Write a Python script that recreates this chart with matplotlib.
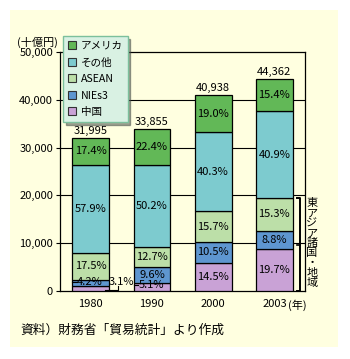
import matplotlib
matplotlib.use("Agg")
import matplotlib.pyplot as plt
from matplotlib.patches import Rectangle, Patch
import matplotlib.transforms as mtransforms
import numpy as np

plt.rcParams['font.family'] = ['Noto Sans CJK JP', 'DejaVu Sans']

# ---- data ----
years = ['1980', '1990', '2000', '2003']
totals = [31995, 33855, 40938, 44362]
series_names = ['中国', 'NIEs3', 'ASEAN', 'その他', 'アメリカ']   # bottom -> top
china_pct = [3.1, 5.1, 14.5, 19.7]
nies_pct = [4.2, 9.6, 10.5, 8.8]
asean_pct = [17.5, 12.7, 15.7, 15.3]
other_pct = [57.9, 50.2, 40.3, 40.9]
america_pct = [17.4, 22.4, 19.0, 15.4]
yticks = [0, 10000, 20000, 30000, 40000, 50000]
ytick_labels = ['0', '10,000', '20,000', '30,000', '40,000', '50,000']
unit_label = '(十億円)'
year_unit = '(年)'
bracket_label = '東アジア諸国・地域'
caption = '資料）財務省「貿易統計」より作成'

pcts = [china_pct, nies_pct, asean_pct, other_pct, america_pct]
colors = ['#c9a2d6', '#5e96d0', '#bcdfa8', '#7dcbcf', '#62b857']

W, H = 350, 359
fig = plt.figure(figsize=(W / 100, H / 100), dpi=100)
fig.patch.set_facecolor('white')
bg = '#ffffe0'
fig.patches.append(Rectangle((10 / W, 1 - 347 / H), 328 / W, 337 / H,
                             transform=fig.transFigure, facecolor=bg,
                             edgecolor='none', zorder=-5))

ax = fig.add_axes([60 / W, 1 - 291 / H, 245 / W, 239 / H])
ax.set_facecolor(bg)
ax.set_xlim(-0.5, 3.5)
ax.set_ylim(0, 50000)

FS = 8
x = np.arange(len(years))
width = 0.6
bottoms = np.zeros(len(years))
segs = []
for p, c in zip(pcts, colors):
    h = np.array(totals) * np.array(p) / 100.0
    ax.bar(x, h, width, bottom=bottoms, color=c, edgecolor='black',
           linewidth=0.9, zorder=3)
    segs.append((bottoms.copy(), h))
    bottoms = bottoms + h

# percentage labels
small = {(0, 0), (1, 0), (0, 1)}  # (series idx, year idx)
for si, (b, h) in enumerate(segs):
    for yi in range(len(years)):
        if (si, yi) in small:
            continue
        ax.text(x[yi], b[yi] + h[yi] / 2, f'{pcts[si][yi]:.1f}%',
                ha='center', va='center', fontsize=FS, zorder=5)

# small segment labels with leader lines
lk = dict(color='black', linewidth=0.8, zorder=6)
# 1980 NIEs3
b, h = segs[1]
yc = b[0] + h[0] / 2
ax.plot([x[0] - 0.3, x[0] - 0.23], [yc + 150, yc + 150], **lk)
ax.text(x[0] - 0.22, yc + 250, f'{nies_pct[0]:.1f}%', ha='left', va='center',
        fontsize=FS, zorder=6)
# 1990 China
b, h = segs[0]
yc = b[1] + h[1] / 2
ax.plot([x[1] - 0.3, x[1] - 0.22], [yc + 350, yc + 350], **lk)
ax.text(x[1] - 0.21, yc + 400, f'{china_pct[1]:.1f}%', ha='left', va='center',
        fontsize=FS, zorder=6)
# 1980 China
yc = b[0] + h[0] / 2
ax.plot([x[0] + 0.24, x[0] + 0.44, x[0] + 0.44], [yc - 300, yc - 300, yc + 550],
        clip_on=False, **lk)
ax.text(x[0] + 0.30, yc + 1300, f'{china_pct[0]:.1f}%', ha='left', va='center',
        fontsize=FS, zorder=6)

# totals
for xi, t in zip(x, totals):
    ax.annotate(f'{t:,}', (xi, t), xytext=(0, 1.5), textcoords='offset points',
                ha='center', va='bottom', fontsize=FS, zorder=6)

# grid & spines
for yv in yticks[1:-1]:
    ax.axhline(yv, color='black', linewidth=0.8, zorder=1)
for s in ax.spines.values():
    s.set_linewidth(0.9)
    s.set_color('black')
ax.set_yticks(yticks)
ax.set_yticklabels(ytick_labels, fontsize=FS)
ax.set_xticks(x)
ax.set_xticklabels(years, fontsize=FS)
ax.tick_params(axis='y', length=3, width=0.8, pad=2)
ax.tick_params(axis='x', length=0, pad=6)

# year unit
ax.annotate(year_unit, (x[-1], 0), xytext=(10, -6), textcoords='offset points',
            ha='left', va='top', fontsize=FS, annotation_clip=False)

# unit label
fig.text(58 / W, 1 - 42 / H, unit_label, ha='right', va='center', fontsize=FS)

# bracket for East Asia
ea_top = segs[2][0][3] + segs[2][1][3]
trans = mtransforms.blended_transform_factory(ax.transAxes, ax.transData)
bx = (300 - 60) / 245
hk = 3 / 245
ax.plot([bx - hk, bx, bx, bx - hk], [ea_top, ea_top, 0, 0], transform=trans,
        color='black', linewidth=1.4, clip_on=False, zorder=7)
ax.plot([bx - hk, bx], [ea_top / 2, ea_top / 2], transform=trans,
        color='black', linewidth=1.2, clip_on=False, zorder=7)
ax.text((312 - 60) / 245, ea_top, '\n'.join(bracket_label), transform=trans,
        ha='center', va='top', fontsize=FS, linespacing=1.0, clip_on=False)

# legend
handles = [Patch(facecolor=c, edgecolor='#333333', linewidth=0.8, label=n)
           for c, n in zip(colors[::-1], series_names[::-1])]
leg = fig.legend(handles=handles, loc='upper left',
                 bbox_to_anchor=(63 / W, 1 - 36 / H), fontsize=7.6,
                 frameon=True, fancybox=False, shadow=True,
                 handlelength=0.8, handleheight=0.8, handletextpad=0.45,
                 labelspacing=0.62, borderpad=0.45, borderaxespad=0)
leg.get_frame().set_facecolor('#d9f1e3')
leg.get_frame().set_edgecolor('#7cc09c')
leg.get_frame().set_linewidth(1.0)
leg.set_zorder(10)

# caption
fig.text(20 / W, 1 - 330 / H, caption, ha='left', va='center', fontsize=9.2)

fig.savefig('out.png', dpi=100, facecolor='white')
